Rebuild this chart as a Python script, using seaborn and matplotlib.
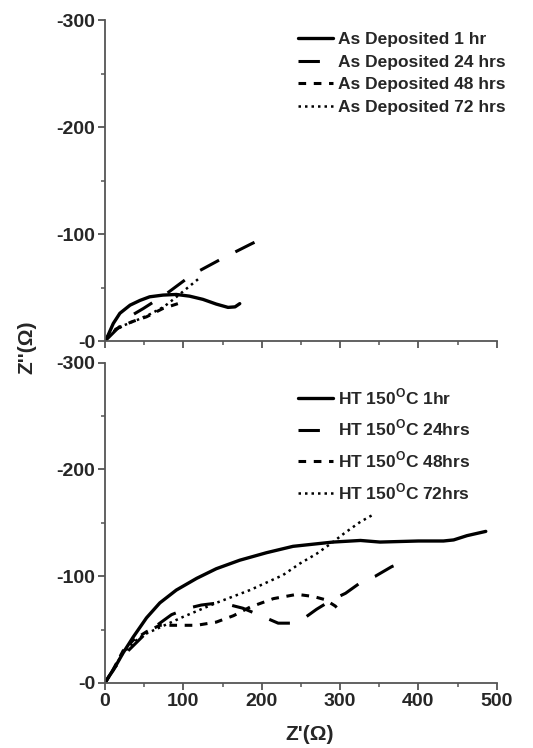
import numpy as np
import pandas as pd
import matplotlib
matplotlib.use("Agg")
import matplotlib.pyplot as plt
import seaborn as sns
from matplotlib.ticker import MultipleLocator, FixedLocator

sns.set_theme(style="ticks")
plt.rcParams['font.family'] = ['Liberation Sans', 'DejaVu Sans']
plt.rcParams['font.weight'] = 'bold'
plt.rcParams['mathtext.fontset'] = 'custom'
plt.rcParams['mathtext.rm'] = 'Liberation Sans:bold'
plt.rcParams['mathtext.bf'] = 'Liberation Sans:bold'

# ---- Data (Z' in ohm, Z'' in ohm; Z'' negative) ----
top_labels = ["As Deposited 1 hr", "As Deposited 24 hrs", "As Deposited 48 hrs", "As Deposited 72 hrs"]
top_1_x = [0, 4, 10.6, 19, 32, 44.6, 57, 74, 91, 108, 125, 142, 157, 166, 172]
top_1_y = [0, -5.6, -16.5, -26, -33.6, -38, -41.4, -43, -43.6, -42, -39, -34.6, -31.5, -32, -35]
top_24_x = [0, 15, 34, 49, 79, 111, 149, 187, 204]
top_24_y = [0, -11, -24, -30.5, -44.6, -62, -77, -91, -97]
top_48_x = [0, 5, 10.6, 19, 34, 53, 74, 93]
top_48_y = [0, -6, -10, -13, -18, -22.7, -30.5, -35]
top_72_x = [0, 10, 25, 42, 57, 75, 89, 104, 119]
top_72_y = [0, -9, -15, -20, -25, -32, -40, -49, -58]

bot_labels = [r"HT 150$^{\mathbf{O}}$C 1hr", r"HT 150$^{\mathbf{O}}$C 24hrs",
              r"HT 150$^{\mathbf{O}}$C 48hrs", r"HT 150$^{\mathbf{O}}$C 72hrs"]
bot_1_x = [0, 5, 10.6, 23, 36, 53, 70, 91, 117, 142, 172, 206, 240, 291, 326, 351, 400, 432, 445, 462, 486]
bot_1_y = [0, -6, -12, -28, -43, -61, -75, -87, -98, -107, -115, -122, -128, -132, -133.5, -132, -133, -133, -134, -138, -142]
bot_24_x = [0, 10, 28, 50, 70, 85, 106, 123, 145, 160, 176, 202, 221, 238, 253, 270, 290, 307, 328, 345, 366, 383]
bot_24_y = [0, -12, -29, -45, -56, -64, -70, -73, -75, -73, -70, -62, -56, -56, -60, -69, -78, -84, -95, -100, -109, -114]
bot_48_x = [0, 10, 23, 36, 53, 70, 91, 117, 142, 164, 185, 215, 245, 266, 281, 294, 300]
bot_48_y = [0, -12, -30, -40, -48, -54, -54, -54, -57, -63, -71, -79, -83, -81, -78, -72, -67]
bot_72_x = [0, 10, 23, 40, 49, 100, 142, 185, 227, 249, 270, 291, 305, 326, 343]
bot_72_y = [0, -12, -28, -40, -45, -62, -75, -87, -101, -112, -121, -132, -140, -151, -158]

styles = [dict(linestyle='-', lw=2.4),
          dict(linestyle=(0, (7, 6)), lw=2.2),
          dict(linestyle=(0, (2.5, 2.5)), lw=2.2),
          dict(linestyle=(0, (1, 1.6)), lw=1.8)]

fig = plt.figure(figsize=(5.33, 7.48), dpi=100)
ax1 = fig.add_axes([0.197, 0.544, 0.735, 0.429])
ax2 = fig.add_axes([0.197, 0.087, 0.735, 0.428])

top_series = [(top_1_x, top_1_y), (top_24_x, top_24_y), (top_48_x, top_48_y), (top_72_x, top_72_y)]
bot_series = [(bot_1_x, bot_1_y), (bot_24_x, bot_24_y), (bot_48_x, bot_48_y), (bot_72_x, bot_72_y)]

for ax, series, labels in [(ax1, top_series, top_labels), (ax2, bot_series, bot_labels)]:
    for (xs, ys), lab, st in zip(series, labels, styles):
        df = pd.DataFrame({"x": xs, "y": ys})
        sns.lineplot(data=df, x="x", y="y", ax=ax, sort=False, color="black",
                     label=lab, solid_joinstyle='round', **st)
    ax.set_xlim(0, 500)
    ax.set_ylim(0, -300)
    ax.set_xlabel("")
    ax.set_ylabel("")
    for s in ["top", "right"]:
        ax.spines[s].set_visible(False)
    for s in ["left", "bottom"]:
        ax.spines[s].set_color("#555555")
        ax.spines[s].set_linewidth(1.3)
    ax.xaxis.set_major_locator(MultipleLocator(100))
    ax.xaxis.set_minor_locator(MultipleLocator(50))
    ax.yaxis.set_major_locator(FixedLocator([0, -100, -200, -300]))
    ax.yaxis.set_minor_locator(FixedLocator([-50, -150, -250]))
    ax.set_yticklabels(["-0", "-100", "-200", "-300"])
    ax.tick_params(which='major', direction='out', length=5, width=1.3, color="#555555",
                   labelsize=14, pad=2)
    ax.tick_params(which='minor', direction='out', length=3, width=1.1, color="#555555")
    for t in ax.get_yticklabels() + ax.get_xticklabels():
        t.set_fontweight('bold')

ax1.tick_params(axis='x', labelbottom=False)

ax1.legend(loc="upper left", frameon=False, handlelength=2.0, handletextpad=0.3,
           labelspacing=0.42, borderpad=0, borderaxespad=0,
           prop={'weight': 'bold', 'size': 12.5},
           bbox_to_anchor=(0.559, 0.957), bbox_transform=fig.transFigure)
ax2.legend(loc="upper left", frameon=False, handlelength=2.0, handletextpad=0.3,
           labelspacing=0.63, borderpad=0, borderaxespad=0,
           prop={'weight': 'bold', 'size': 12.5},
           bbox_to_anchor=(0.559, 0.483), bbox_transform=fig.transFigure)

fig.text(0.05, 0.536, "Z''(\u03a9)", rotation=90, ha='center', va='center',
         fontsize=15, fontweight='bold')
fig.text(0.58, 0.018, "Z'(\u03a9)", ha='center', va='center',
         fontsize=15, fontweight='bold')

fig.savefig("out.png", dpi=100, facecolor="white")
